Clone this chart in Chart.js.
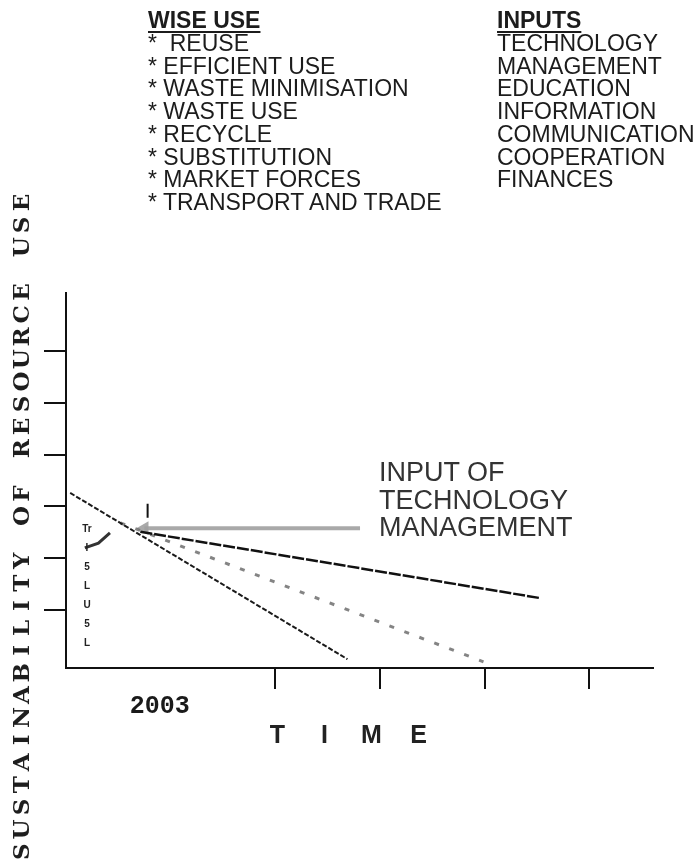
<!DOCTYPE html>
<html>
<head>
<meta charset="utf-8">
<script src="https://cdn.jsdelivr.net/npm/chart.js@4"></script>
<style>
  body { margin: 0; background: #fff; }
  #page { position: relative; width: 695px; height: 868px; overflow: hidden; }
  #chartBox { position: absolute; left: 0; top: 0; width: 695px; height: 868px; }
  .txt { position: absolute; font-family: "Liberation Sans", Arial, sans-serif; color: #1c1c1c; white-space: nowrap; }
  .list { font-size: 23px; line-height: 22.75px; }
  .list b { font-weight: bold; text-decoration: underline; text-decoration-thickness: 2px; text-underline-offset: 3px; }
  #note { left: 379px; top: 459px; font-size: 27px; line-height: 27.5px; color: #333; }
  #ylabel { left: -315px; top: 515px; width: 672px; height: 24px; transform: rotate(-90deg); display: flex;
            font-family: "DejaVu Serif", serif; font-weight: bold; font-size: 23px; line-height: 24px; color: #1e1e1e; }
  #ylabel span { display: inline-block; width: 22.4px; text-align: center; }
  #xlabel { left: 254px; top: 720px; display: flex; font-weight: bold; font-size: 25px; line-height: 28px; color: #222; }
  #xlabel span { display: inline-block; width: 47px; text-align: center; }
  #marks { left: 80px; top: 519px; font-size: 10px; line-height: 19px; font-weight: bold; color: #222; text-align: center; width: 14px; }
</style>
</head>
<body>
<div id="page">
  <div id="chartBox"><canvas id="chart"></canvas></div>

  <div class="txt list" style="left:148px; top:9px;">
    <b>WISE USE</b><br>
    *&nbsp; REUSE<br>
    * EFFICIENT USE<br>
    * WASTE MINIMISATION<br>
    * WASTE USE<br>
    * RECYCLE<br>
    * SUBSTITUTION<br>
    * MARKET FORCES<br>
    * TRANSPORT AND TRADE
  </div>
  <div class="txt list" style="left:497px; top:9px;">
    <b>INPUTS</b><br>
    TECHNOLOGY<br>
    MANAGEMENT<br>
    EDUCATION<br>
    INFORMATION<br>
    COMMUNICATION<br>
    COOPERATION<br>
    FINANCES
  </div>

  <div class="txt" id="note">INPUT OF<br>TECHNOLOGY<br>MANAGEMENT</div>
  <div class="txt" id="ylabel"></div>
  <div class="txt" id="xlabel"></div>
  <div class="txt" id="marks">Tr<br>I<br>5<br>L<br>U<br>5<br>L</div>
</div>

<script>
// axis ticks
const timeTicks = [1, 2, 3, 4, 5];
const timeLabels = ["2003", "", "", "", ""];
const resourceTicks = [1, 2, 3, 4, 5, 6];

// lines (time, sustainability)
const steepX = [0.04, 2.69];
const steepY = [3.26, 0.05];
const shallowX = [0.71, 4.53];
const shallowY = [2.51, 1.23];
const dottedX = [0.52, 3.99];
const dottedY = [2.68, 0.0];
const arrowX = [0.75, 2.81];
const arrowY = [2.58, 2.58];
const markerX = [0.78, 0.78];
const markerY = [3.05, 2.78];
const squiggleX = [0.18, 0.31, 0.42];
const squiggleY = [2.20, 2.29, 2.49];

const yTitle = "SUSTAINABILITY OF RESOURCE USE";
const xTitle = "TIME";

function pts(xs, ys) {
  return xs.map((x, i) => ({ x: x, y: ys[i] }));
}

// spaced letter titles
const yl = document.getElementById("ylabel");
yTitle.split("").forEach((c) => {
  const s = document.createElement("span");
  s.innerHTML = c === " " ? "&nbsp;" : c;
  yl.appendChild(s);
});
const xl = document.getElementById("xlabel");
xTitle.split("").forEach((c) => {
  const s = document.createElement("span");
  s.textContent = c;
  xl.appendChild(s);
});

new Chart(document.getElementById("chart"), {
  type: "line",
  data: {
    datasets: [
      {
        data: pts(steepX, steepY),
        borderColor: "#1a1a1a",
        borderWidth: 2,
        borderDash: [5, 2]
      },
      {
        data: pts(shallowX, shallowY),
        borderColor: "#111",
        borderWidth: 2.5,
        borderDash: [12, 2]
      },
      {
        data: pts(markerX, markerY),
        borderColor: "#111",
        borderWidth: 2
      },
      {
        data: pts(squiggleX, squiggleY),
        borderColor: "#333",
        borderWidth: 3
      },
      {
        data: pts(dottedX, dottedY),
        borderColor: "rgba(110,110,110,0.85)",
        borderWidth: 3,
        borderDash: [5, 11]
      },
      {
        data: pts(arrowX, arrowY),
        borderColor: "rgba(160,160,160,0.9)",
        borderWidth: 4
      },
      {
        data: pts(arrowX.slice(0, 1), arrowY.slice(0, 1)),
        showLine: false,
        pointStyle: "triangle",
        rotation: -90,
        pointRadius: 8,
        pointBackgroundColor: "rgba(160,160,160,0.9)",
        pointBorderWidth: 0
      }
    ]
  },
  options: {
    responsive: true,
    maintainAspectRatio: false,
    animation: false,
    layout: { padding: { left: 0, right: 42, top: 293, bottom: 140 } },
    elements: { point: { radius: 0 }, line: { tension: 0 } },
    plugins: { legend: { display: false }, tooltip: { enabled: false } },
    scales: {
      x: {
        type: "linear",
        min: 0,
        max: 5.61,
        afterFit: (scale) => { scale.height = 60; },
        afterBuildTicks: (scale) => { scale.ticks = timeTicks.map((v) => ({ value: v })); },
        border: { display: true, color: "#111", width: 2 },
        grid: {
          drawOnChartArea: false,
          drawTicks: true,
          tickLength: 21,
          lineWidth: 2,
          tickColor: (ctx) => (ctx.tick && ctx.tick.value === 1 ? "rgba(0,0,0,0)" : "#111")
        },
        ticks: {
          padding: 3,
          labelOffset: -11,
          color: "#1a1a1a",
          font: { family: "Liberation Mono", weight: "bold", size: 25 },
          callback: (value) => timeLabels[timeTicks.indexOf(value)] || ""
        }
      },
      y: {
        type: "linear",
        min: -0.12,
        max: 7.12,
        afterFit: (scale) => { scale.width = 66; },
        afterBuildTicks: (scale) => { scale.ticks = resourceTicks.map((v) => ({ value: v })); },
        border: { display: true, color: "#111", width: 2 },
        grid: {
          drawOnChartArea: false,
          drawTicks: true,
          tickLength: 22,
          lineWidth: 2,
          tickColor: "#111"
        },
        ticks: { display: false }
      }
    }
  }
});
</script>
</body>
</html>
